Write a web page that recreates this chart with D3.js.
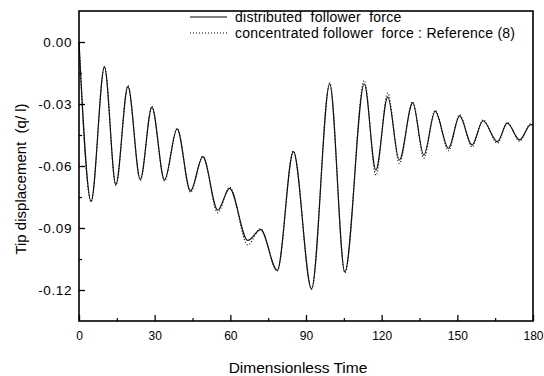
<!DOCTYPE html>
<html>
<head>
<meta charset="utf-8">
<script src="https://cdn.jsdelivr.net/npm/d3@7"></script>
<style>
  html, body { margin: 0; padding: 0; background: #fff; }
  svg { display: block; }
  text { font-family: "Liberation Sans", Arial, sans-serif; fill: #000; white-space: pre; }
</style>
</head>
<body>
<svg id="chart" width="544" height="376"></svg>
<script>
// Time instants at turning points of the tip response
const time = [0, 4.8, 10.1, 14.6, 19.4, 24.3, 28.9, 33.9, 38.9, 44.2, 49.1, 55.0, 59.7, 66.9, 72.0, 78.6,
  85.0, 92.2, 99.4, 105.4, 113.1, 117.7, 122.4, 127.0, 132.3, 136.7, 141.2, 146.5, 150.9, 155.8, 160.2,
  165.9, 169.8, 174.7, 179.1, 180];

// Distributed follower force
const distributed = [0.000, -0.077, -0.012, -0.069, -0.0215, -0.0665, -0.0315, -0.0668, -0.042, -0.072,
  -0.0555, -0.0814, -0.0708, -0.096, -0.0908, -0.1105, -0.053, -0.1194, -0.0203, -0.1113, -0.0202, -0.062,
  -0.0266, -0.0571, -0.0295, -0.0547, -0.0336, -0.0514, -0.0357, -0.0498, -0.0381, -0.0482, -0.0393, -0.0474,
  -0.0400, -0.0401];

// Concentrated follower force : Reference (8)
const concentrated = [0.000, -0.0775, -0.0118, -0.0695, -0.0212, -0.067, -0.0312, -0.0672, -0.0418, -0.0728,
  -0.0553, -0.0826, -0.0702, -0.0982, -0.0903, -0.1108, -0.0528, -0.1196, -0.0198, -0.1116, -0.0186, -0.0645,
  -0.0247, -0.0588, -0.0288, -0.0562, -0.0330, -0.0526, -0.0352, -0.0508, -0.0377, -0.0490, -0.0389, -0.0480,
  -0.0396, -0.0398];

const xMajor = [0, 30, 60, 90, 120, 150, 180];
const xMinor = [15, 45, 75, 105, 135, 165];
const yMajor = [0.00, -0.03, -0.06, -0.09, -0.12];
const yMinor = [-0.015, -0.045, -0.075, -0.105];

const legendLabels = ["distributed  follower  force", "concentrated follower  force : Reference (8)"];

const svg = d3.select("#chart");
const plotLeft = 79, plotRight = 533, plotTop = 11, plotBottom = 321;

const x = d3.scaleLinear().domain([0, 180]).range([plotLeft, plotRight]);
const y = d3.scaleLinear().domain([-0.135, 0.015]).range([plotBottom, plotTop]);

// Curves
const line = (vals) => d3.line()
  .x((d, i) => x(time[i]))
  .y(d => y(d))
  .curve(d3.curveMonotoneX)(vals);

svg.append("path")
  .attr("d", line(concentrated))
  .attr("fill", "none").attr("stroke", "#000")
  .attr("stroke-width", 1.1).attr("stroke-dasharray", "1,2");

svg.append("path")
  .attr("d", line(distributed))
  .attr("fill", "none").attr("stroke", "#111")
  .attr("stroke-width", 1.2);

// Frame
svg.append("rect")
  .attr("x", plotLeft).attr("y", plotTop)
  .attr("width", plotRight - plotLeft).attr("height", plotBottom - plotTop)
  .attr("fill", "none").attr("stroke", "#000").attr("stroke-width", 1.6);

// Axes with inward ticks
const xAxis = d3.axisBottom(x).tickValues(xMajor).tickSize(-6).tickPadding(10)
  .tickFormat(d3.format("d"));
const gx = svg.append("g").attr("transform", `translate(0,${plotBottom})`).call(xAxis);
gx.select(".domain").remove();
gx.selectAll("line").attr("stroke-width", 1.3);
gx.selectAll("text").attr("font-size", "12px").attr("font-family", "Liberation Sans, Arial, sans-serif");

const gxm = svg.append("g").attr("transform", `translate(0,${plotBottom})`)
  .call(d3.axisBottom(x).tickValues(xMinor).tickSize(-3).tickFormat(""));
gxm.select(".domain").remove();
gxm.selectAll("line").attr("stroke-width", 1.2);

const yAxis = d3.axisLeft(y).tickValues(yMajor).tickSize(-6).tickPadding(7)
  .tickFormat(d => d === 0 ? "0.00" : d3.format(".2f")(d).replace("\u2212", "-"));
const gy = svg.append("g").attr("transform", `translate(${plotLeft},0)`).call(yAxis);
gy.select(".domain").remove();
gy.selectAll("line").attr("stroke-width", 1.3);
gy.selectAll("text").attr("font-size", "13.5px").attr("letter-spacing", "0.6px")
  .attr("font-family", "Liberation Sans, Arial, sans-serif");

const gym = svg.append("g").attr("transform", `translate(${plotLeft},0)`)
  .call(d3.axisLeft(y).tickValues(yMinor).tickSize(-3).tickFormat(""));
gym.select(".domain").remove();
gym.selectAll("line").attr("stroke-width", 1.2);

// Axis titles
svg.append("text")
  .attr("x", 298).attr("y", 373)
  .attr("text-anchor", "middle").attr("font-size", "15.5px")
  .text("Dimensionless Time");

svg.append("text")
  .attr("transform", "translate(26,179) rotate(-90)")
  .attr("text-anchor", "middle").attr("font-size", "15px")
  .text("Tip displacement  (q/ l)");

// Legend
const legend = svg.append("g");
legendLabels.forEach((label, i) => {
  const ly = 17 + i * 16;
  legend.append("line")
    .attr("x1", 190).attr("x2", 227).attr("y1", ly).attr("y2", ly)
    .attr("stroke", "#000").attr("stroke-width", i === 0 ? 1.2 : 1.1)
    .attr("stroke-dasharray", i === 0 ? null : "1,2");
  legend.append("text")
    .attr("x", 235).attr("y", ly + 5)
    .attr("font-size", "14px").attr("letter-spacing", "0.25px")
    .text(label);
});
</script>
</body>
</html>
